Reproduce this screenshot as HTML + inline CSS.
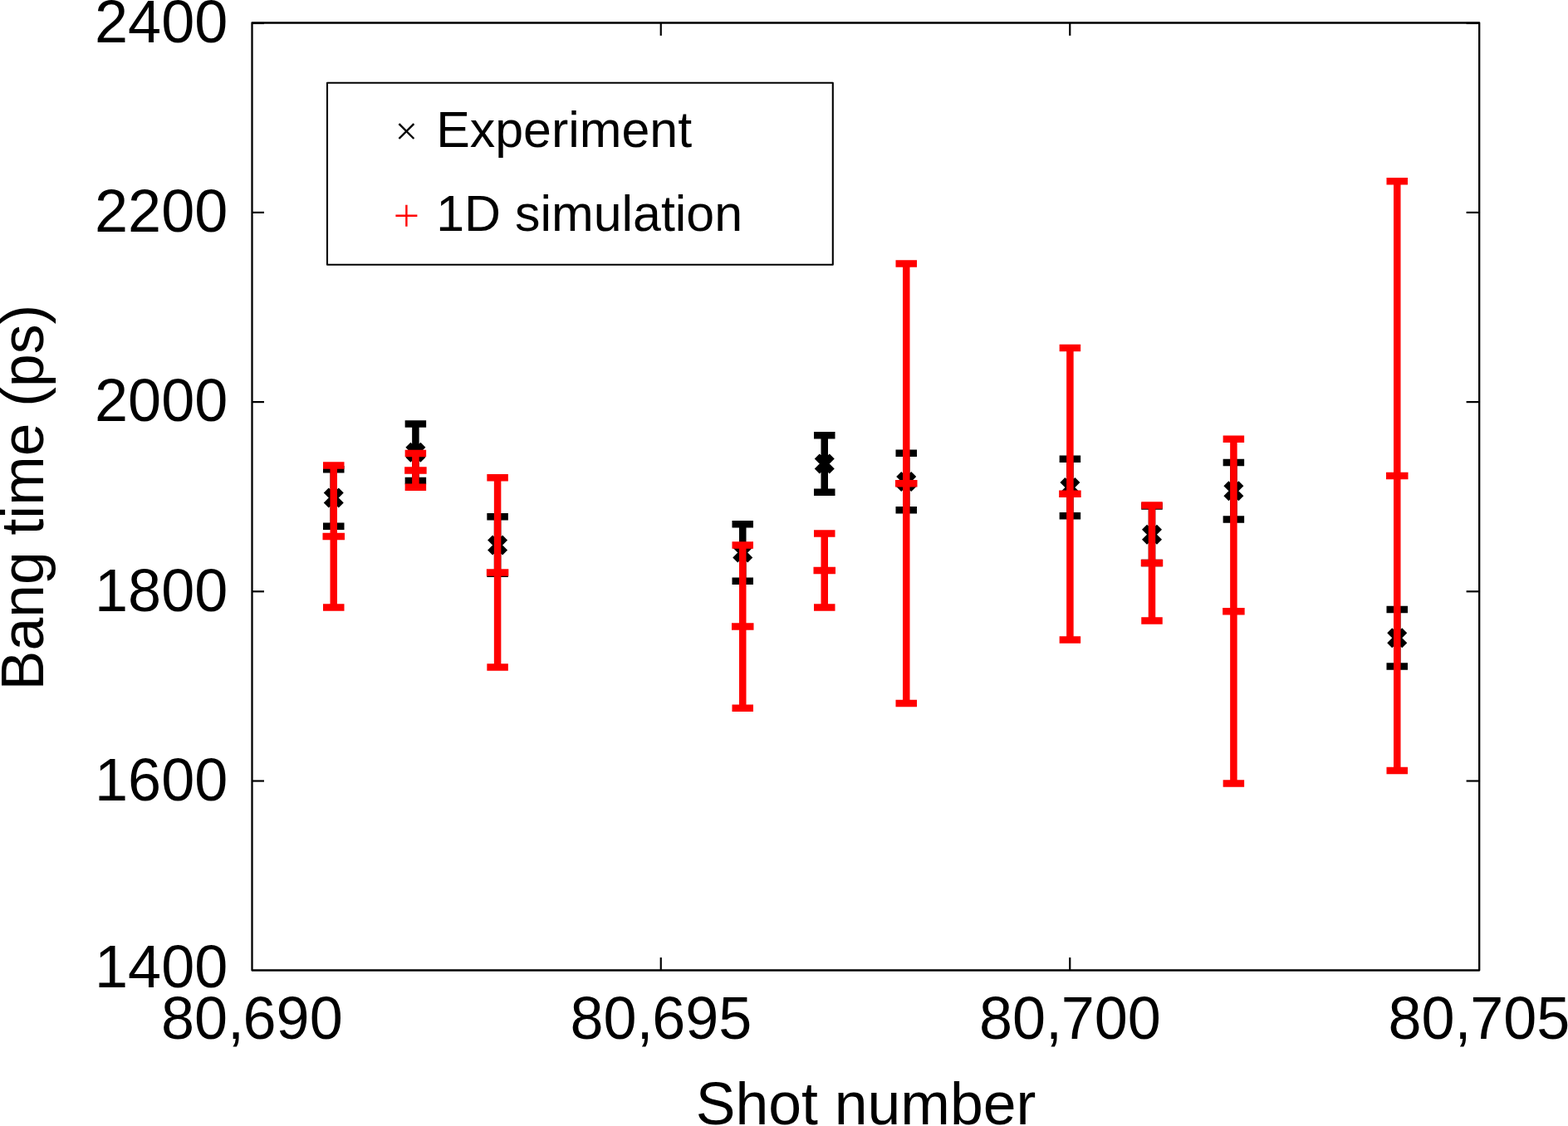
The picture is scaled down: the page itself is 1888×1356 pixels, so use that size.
<!DOCTYPE html>
<html lang="en"><head><meta charset="utf-8"><title>Bang time vs shot number</title>
<style>html,body{margin:0;padding:0;background:#fff;}body{width:1888px;height:1356px;overflow:hidden;}svg{display:block;}text{font-family:"Liberation Sans",sans-serif;fill:#000;}</style>
</head><body>
<svg width="1888" height="1356" viewBox="0 0 1888 1356">
<rect x="0" y="0" width="1888" height="1356" fill="#fff"/>
<rect x="303.50" y="27.50" width="1477.70" height="1141.00" fill="none" stroke="#000" stroke-width="2.30" stroke-linejoin="round"/>
<g stroke="#000" stroke-width="2.20" fill="none">
<line x1="303.50" y1="28.00" x2="318.00" y2="28.00"/>
<line x1="1781.20" y1="28.00" x2="1765.60" y2="28.00"/>
<line x1="303.50" y1="255.90" x2="318.00" y2="255.90"/>
<line x1="1781.20" y1="255.90" x2="1765.60" y2="255.90"/>
<line x1="303.50" y1="484.10" x2="318.00" y2="484.10"/>
<line x1="1781.20" y1="484.10" x2="1765.60" y2="484.10"/>
<line x1="303.50" y1="712.30" x2="318.00" y2="712.30"/>
<line x1="1781.20" y1="712.30" x2="1765.60" y2="712.30"/>
<line x1="303.50" y1="940.50" x2="318.00" y2="940.50"/>
<line x1="1781.20" y1="940.50" x2="1765.60" y2="940.50"/>
<line x1="795.75" y1="1168.50" x2="795.75" y2="1153.10"/>
<line x1="795.75" y1="27.50" x2="795.75" y2="42.90"/>
<line x1="1288.25" y1="1168.50" x2="1288.25" y2="1153.10"/>
<line x1="1288.25" y1="27.50" x2="1288.25" y2="42.90"/>
</g>
<g font-size="72" text-anchor="end">
<text x="274.25" y="50.60">2400</text>
<text x="274.25" y="278.50">2200</text>
<text x="274.25" y="506.90">2000</text>
<text x="274.25" y="735.50">1800</text>
<text x="274.25" y="963.80">1600</text>
<text x="274.25" y="1188.60">1400</text>
</g>
<g font-size="72" text-anchor="middle">
<text x="303.35" y="1251.00">80,<tspan dx="-1.5">690</tspan></text>
<text x="795.90" y="1251.00">80,<tspan dx="-1.5">695</tspan></text>
<text x="1288.40" y="1251.00">80,<tspan dx="-1.5">700</tspan></text>
<text x="1780.90" y="1251.00">80,<tspan dx="-1.5">705</tspan></text>
</g>
<text transform="translate(837.67,1354) scale(0.994,1)" font-size="72">Shot number</text>
<text transform="translate(52.1,599) rotate(-90) scale(0.992,1)" font-size="72" text-anchor="middle">Bang time (ps)</text>
<g stroke="#000" stroke-width="8.50" fill="none">
<path d="M401.75 565.25V633.75M389.00 565.25H414.50M389.00 633.75H414.50M392.75 590.50L410.75 608.50M392.75 608.50L410.75 590.50"/>
<path d="M500.40 510.45V578.95M487.65 510.45H513.15M487.65 578.95H513.15M491.40 535.70L509.40 553.70M491.40 553.70L509.40 535.70"/>
<path d="M599.10 622.35V690.85M586.35 622.35H611.85M586.35 690.85H611.85M590.10 647.60L608.10 665.60M590.10 665.60L608.10 647.60"/>
<path d="M894.25 631.25V699.75M881.50 631.25H907.00M881.50 699.75H907.00M885.25 656.50L903.25 674.50M885.25 674.50L903.25 656.50"/>
<path d="M992.75 524.15V592.65M980.00 524.15H1005.50M980.00 592.65H1005.50M983.75 549.40L1001.75 567.40M983.75 567.40L1001.75 549.40"/>
<path d="M1091.25 545.85V614.35M1078.50 545.85H1104.00M1078.50 614.35H1104.00M1082.25 571.10L1100.25 589.10M1082.25 589.10L1100.25 571.10"/>
<path d="M1288.40 552.85V621.35M1275.65 552.85H1301.15M1275.65 621.35H1301.15M1279.40 578.10L1297.40 596.10M1279.40 596.10L1297.40 578.10"/>
<path d="M1387.00 609.55V678.05M1374.25 609.55H1399.75M1374.25 678.05H1399.75M1378.00 634.80L1396.00 652.80M1378.00 652.80L1396.00 634.80"/>
<path d="M1485.40 557.05V625.55M1472.65 557.05H1498.15M1472.65 625.55H1498.15M1476.40 582.30L1494.40 600.30M1476.40 600.30L1494.40 582.30"/>
<path d="M1682.25 733.95V802.45M1669.50 733.95H1695.00M1669.50 802.45H1695.00M1673.25 759.20L1691.25 777.20M1673.25 777.20L1691.25 759.20"/>
</g>
<g stroke="#f00" stroke-width="8.50" fill="none">
<path d="M401.75 560.60V731.60M389.00 560.60H414.50M389.00 731.60H414.50M388.50 646.10H415.00M401.75 632.85V659.35"/>
<path d="M500.40 546.00V586.75M487.65 546.00H513.15M487.65 586.75H513.15M487.15 566.38H513.65M500.40 553.12V579.62"/>
<path d="M599.10 575.25V803.60M586.35 575.25H611.85M586.35 803.60H611.85M585.85 689.42H612.35M599.10 676.17V702.67"/>
<path d="M894.25 656.50V852.75M881.50 656.50H907.00M881.50 852.75H907.00M881.00 754.62H907.50M894.25 741.38V767.88"/>
<path d="M992.75 642.60V731.50M980.00 642.60H1005.50M980.00 731.50H1005.50M979.50 687.05H1006.00M992.75 673.80V700.30"/>
<path d="M1091.25 317.50V847.00M1078.50 317.50H1104.00M1078.50 847.00H1104.00M1078.00 582.25H1104.50M1091.25 569.00V595.50"/>
<path d="M1288.40 419.00V770.60M1275.65 419.00H1301.15M1275.65 770.60H1301.15M1275.15 594.80H1301.65M1288.40 581.55V608.05"/>
<path d="M1387.00 608.60V747.40M1374.25 608.60H1399.75M1374.25 747.40H1399.75M1373.75 678.00H1400.25M1387.00 664.75V691.25"/>
<path d="M1485.40 528.75V943.60M1472.65 528.75H1498.15M1472.65 943.60H1498.15M1472.15 736.17H1498.65M1485.40 722.92V749.42"/>
<path d="M1682.25 218.25V928.00M1669.50 218.25H1695.00M1669.50 928.00H1695.00M1669.00 573.12H1695.50M1682.25 559.88V586.38"/>
</g>
<rect x="394.00" y="99.75" width="608.80" height="219.05" fill="#fff" stroke="#000" stroke-width="2.1" stroke-linejoin="round"/>
<path d="M480.45 149.10L498.35 167.00M480.45 167.00L498.35 149.10" stroke="#000" stroke-width="2.4" fill="none"/>
<path d="M476.40 259.80H502.40M489.40 246.80V272.80" stroke="#f00" stroke-width="2.4" fill="none"/>
<g font-size="60.9">
<text x="525.2" y="176.5">Experiment</text>
<text x="525.2" y="278.3">1D simulation</text>
</g>
</svg></body></html>
